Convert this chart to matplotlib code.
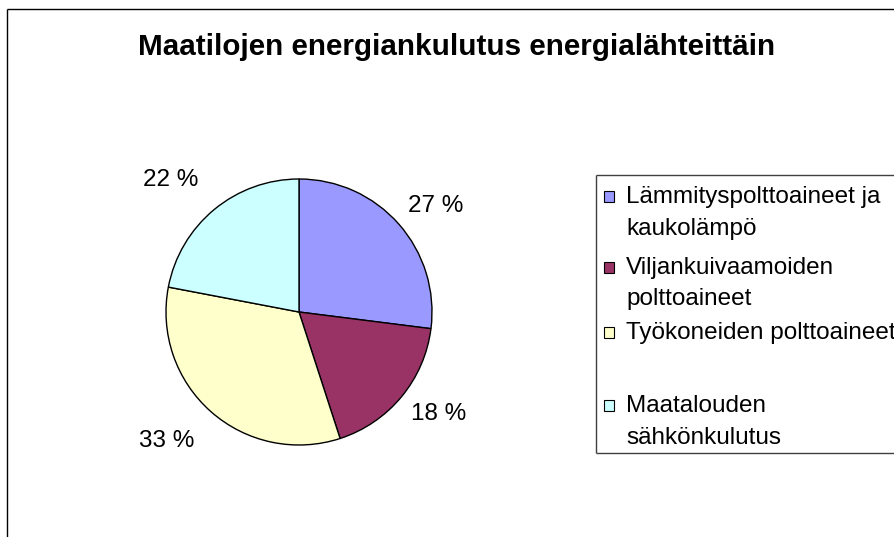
import numpy as np
import matplotlib.pyplot as plt
from matplotlib.patches import Rectangle
from matplotlib.lines import Line2D

plt.rcParams['font.family'] = ['Liberation Sans', 'DejaVu Sans']

TITLE = "Maatilojen energiankulutus energialähteittäin"
LABELS = ["Lämmityspolttoaineet ja\nkaukolämpö",
          "Viljankuivaamoiden\npolttoaineet",
          "Työkoneiden polttoaineet",
          "Maatalouden\nsähkönkulutus"]
SHARES = [27, 18, 33, 22]  # %
COLORS = ["#9999FF", "#993366", "#FFFFCC", "#CCFFFF"]

W, H = 895, 537


def fx(x):
    return x / W


def fy(y):
    return 1 - y / H


def open_box(x0, y0, y1, color):
    # box whose right side runs off the picture
    for xs, ys in [((x0, W + 5), (y0, y0)), ((x0, x0), (y0, y1)), ((x0, W + 5), (y1, y1))]:
        fig.add_artist(Line2D([fx(v) for v in xs], [fy(v) for v in ys], transform=fig.transFigure,
                              color=color, lw=1, solid_capstyle="butt"))


fig = plt.figure(figsize=(W / 100, H / 100), dpi=100)

# outer chart frame (runs off the right and bottom edges)
open_box(7.5, 8.5, H + 5, "black")

fig.text(fx(457), fy(47), TITLE, ha="center", va="center", fontsize=21.3, fontweight="bold")

# pie: centre (299, 312) px, radius 133 px
cx, cy, r = 299, 312, 133
ax = fig.add_axes([fx(cx - r), fy(cy + r), 2 * r / W, 2 * r / H])
wedges, _, autotexts = ax.pie(SHARES, colors=COLORS, startangle=90, counterclock=False,
                              autopct=lambda p: "%d %%" % round(p), pctdistance=1.2,
                              wedgeprops=dict(edgecolor="black", linewidth=1),
                              textprops=dict(fontsize=17.5))
ax.set_xlim(-1, 1)
ax.set_ylim(-1, 1)
ax.set_aspect("equal")
ax.axis("off")

# label box corner sits just outside the rim, as in the spreadsheet
for w, t in zip(wedges, autotexts):
    a = np.deg2rad((w.theta1 + w.theta2) / 2)
    c, s = np.cos(a), np.sin(a)
    d = 1.1 if c > 0 else 1.2
    t.set_position((d * c + np.sign(c) * 0.203, d * s + np.sign(s) * 0.068))
    t.set_ha("center")
    t.set_va("center")

# legend box
open_box(595.5, 174.5, 452.5, "#404040")
item_base = [203, 274, 339, 412]
line_step = 31.5
for lab, col, yb in zip(LABELS, COLORS, item_base):
    yc = yb - 7
    fig.add_artist(Rectangle((fx(604.5), fy(yc + 5.5)), 10 / W, 11 / H, transform=fig.transFigure,
                             facecolor=col, edgecolor="black", lw=0.8))
    for i, line in enumerate(lab.split("\n")):
        fig.text(fx(626), fy(yb + i * line_step), line, ha="left", va="baseline", fontsize=17.5)

fig.savefig("out.png", dpi=100)
